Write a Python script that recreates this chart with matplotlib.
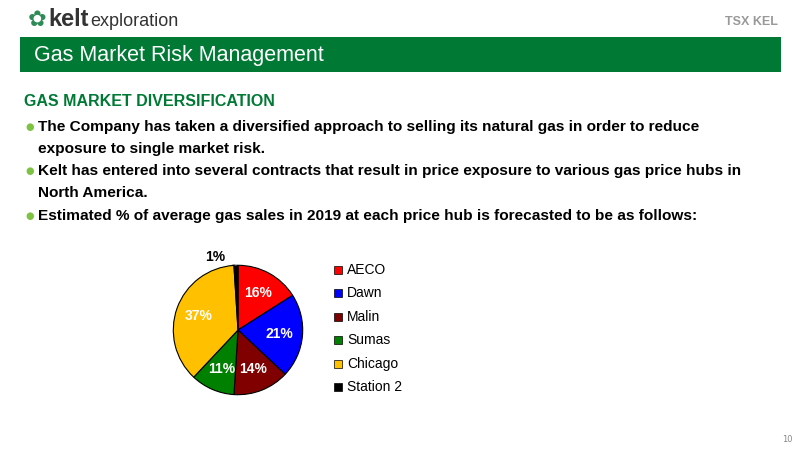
import matplotlib
matplotlib.use("Agg")
import matplotlib.pyplot as plt
from matplotlib.patches import Rectangle
import numpy as np

labels = ["AECO", "Dawn", "Malin", "Sumas", "Chicago", "Station 2"]
values = [16, 21, 14, 11, 37, 1]
colors = ["#FF0000", "#0000FF", "#800000", "#008000", "#FFC000", "#000000"]

NARROW = ["Liberation Sans Narrow", "Liberation Sans", "DejaVu Sans"]
W, H = 800, 450
fig = plt.figure(figsize=(8, 4.5), dpi=100)
fig.patch.set_facecolor("white")

def px(x, y):
    return x / W, 1 - y / H

# header
fig.patches.append(Rectangle(px(20, 72), 761 / W, 35 / H, transform=fig.transFigure,
                             facecolor="#007934", edgecolor="none"))
fig.text(*px(34, 55), "Gas Market Risk Management", color="white", fontsize=15.5,
         family=NARROW, va="center")
fig.text(*px(28, 20), "✿", color="#2e8b57", fontsize=16, family=["DejaVu Sans"], va="center")
fig.text(*px(48, 20), "kelt", color="#333333", fontsize=17, fontweight="bold",
         family=["Liberation Sans", "DejaVu Sans"], va="center")
fig.text(*px(90, 22), "exploration", color="#333333", fontsize=13,
         family=["Liberation Sans", "DejaVu Sans"], va="center")
fig.text(*px(778, 22), "TSX KEL", color="#999999", fontsize=9, fontweight="bold",
         family=NARROW, va="center", ha="right")

# body text
fig.text(*px(24, 101), "GAS MARKET DIVERSIFICATION", color="#007934", fontsize=11.5,
         fontweight="bold", family=NARROW, va="center")
bullets = [
    (127, ["The Company has taken a diversified approach to selling its natural gas in order to reduce",
           "exposure to single market risk."]),
    (171, ["Kelt has entered into several contracts that result in price exposure to various gas price hubs in",
           "North America."]),
    (216, ["Estimated % of average gas sales in 2019 at each price hub is forecasted to be as follows:"]),
]
for y, lines in bullets:
    fig.text(*px(25, y), "●", color="#7dc242", fontsize=7, family=["DejaVu Sans"], va="center")
    for i, line in enumerate(lines):
        fig.text(*px(38, y + i * 22), line, color="black", fontsize=11.1, fontweight="bold",
                 family=NARROW, va="center")

fig.text(*px(793, 440), "10", color="#888888", fontsize=6, ha="right", va="center")

# pie
ax = fig.add_axes([172 / W, (450 - 396) / H, 132 / W, 132 / H])
wedges, _ = ax.pie(values, colors=colors, startangle=90, counterclock=False,
                   wedgeprops=dict(edgecolor="black", linewidth=0.8))
ax.set_aspect("equal")
cum = np.cumsum([0] + values[:-1])
for i, (v, c) in enumerate(zip(values, cum)):
    ang = np.deg2rad(90 - (c + v / 2) * 3.6)
    if labels[i] == "Station 2":
        ax.text(-0.36, 1.13, f"{v}%", ha="center", va="center", fontsize=10,
                fontweight="bold", family=NARROW, color="black")
        ax.plot([-0.2, -0.03], [1.06, 1.0], color="gray", lw=0.6)
        continue
    r = 0.65
    ax.text(r * np.cos(ang), r * np.sin(ang), f"{v}%", ha="center", va="center",
            fontsize=10, fontweight="bold", family=NARROW, color="white")
ax.set_xlim(-1.02, 1.02); ax.set_ylim(-1.02, 1.02)

lax = fig.add_axes([0, 0, 1, 1]); lax.axis("off")
lax.set_xlim(0, W); lax.set_ylim(H, 0)
for i, (lab, col) in enumerate(zip(labels, colors)):
    y = 270 + i * 23.4
    lax.add_patch(Rectangle((334, y - 4), 8, 8, facecolor=col, edgecolor="black", lw=0.5))
    lax.text(347, y, lab, fontsize=10, family=NARROW, va="center")

fig.savefig("out.png", dpi=100)
